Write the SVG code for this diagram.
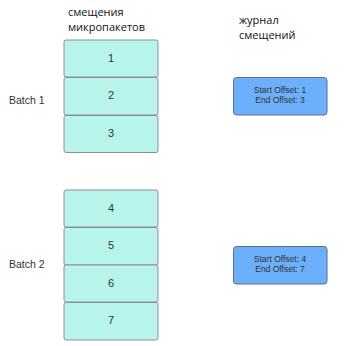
<svg xmlns="http://www.w3.org/2000/svg" width="352" height="346" viewBox="0 0 352 346">
<style>
.cell{fill:#b9f4ec;stroke:#8a8f94;stroke-width:1}
.log{fill:#6cb0fb;stroke:#5b6f86;stroke-width:1}
.num{font-family:"Liberation Sans",Arial,sans-serif;font-size:11px;fill:#333;text-anchor:middle}
.lbl{font-family:"Liberation Sans",Arial,sans-serif;font-size:10.5px;fill:#333}
.off{font-family:"Liberation Sans",Arial,sans-serif;font-size:8.5px;fill:#333;text-anchor:middle}
.hd{font-family:"Open Sans","Noto Sans",sans-serif;font-size:11px;fill:#111}
</style>
<rect width="352" height="346" fill="#fff"/>
<g id="header-left"><text class="hd" x="68" y="16">смещения</text><text class="hd" x="68" y="31">микропакетов</text></g>
<g id="header-right"><text class="hd" x="239" y="24">журнал</text><text class="hd" x="239" y="39">смещений</text></g>
<g id="batch1-label"><text class="lbl" x="9" y="104">Batch 1</text></g>
<g id="batch2-label"><text class="lbl" x="9" y="268">Batch 2</text></g>
<g id="cell1"><rect class="cell" x="64" y="40" width="94" height="37" rx="2"/><text class="num" x="111" y="62">1</text></g>
<g id="cell2"><rect class="cell" x="64" y="77.5" width="94" height="37.5" rx="2"/><text class="num" x="111" y="99">2</text></g>
<g id="cell3"><rect class="cell" x="64" y="115.5" width="94" height="37" rx="2"/><text class="num" x="111" y="137">3</text></g>
<g id="cell4"><rect class="cell" x="64" y="190" width="94" height="37" rx="2"/><text class="num" x="111" y="212">4</text></g>
<g id="cell5"><rect class="cell" x="64" y="227.5" width="94" height="37.5" rx="2"/><text class="num" x="111" y="249">5</text></g>
<g id="cell6"><rect class="cell" x="64" y="265" width="94" height="37" rx="2"/><text class="num" x="111" y="287">6</text></g>
<g id="cell7"><rect class="cell" x="64" y="302.5" width="94" height="37.5" rx="2"/><text class="num" x="111" y="324">7</text></g>
<g id="log1"><rect class="log" x="233.5" y="77.5" width="93.5" height="37.5" rx="3"/><text class="off" x="280" y="93">Start Offset: 1</text><text class="off" x="280" y="102.5">End Offset: 3</text></g>
<g id="log2"><rect class="log" x="233.5" y="246.5" width="93.5" height="37.5" rx="3"/><text class="off" x="280" y="262">Start Offset: 4</text><text class="off" x="280" y="271.5">End Offset: 7</text></g>
<g id="connectors"></g>
</svg>
